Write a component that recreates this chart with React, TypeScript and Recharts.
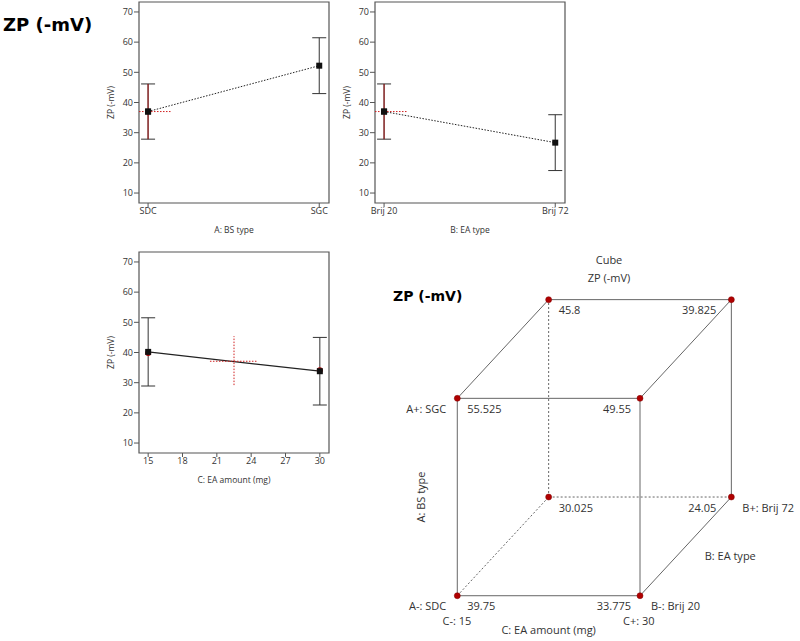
import React from 'react';
import { ComposedChart, ScatterChart, Scatter, Line, XAxis, YAxis, ErrorBar, ReferenceLine, ReferenceArea } from 'recharts';

// one-factor plots, shared y axis
const yTicks = [10, 20, 30, 40, 50, 60, 70];
const overallMean = 37.0;

// A: BS type
const bsLevels = ['SDC', 'SGC'];
const bsMeans = [37.0, 52.2];
const bsErr = [9.15, 9.25];

// B: EA type
const eaLevels = ['Brij 20', 'Brij 72'];
const eaMeans = [37.0, 26.7];
const eaErr = [9.15, 9.25];

// C: EA amount (mg)
const amountTicks = [15, 18, 21, 24, 27, 30];
const amountLevels = [15, 30];
const amountPred = [40.2, 33.8];
const amountActual = [39.8, 34.1];
const amountErr = [11.3, 11.2];
const amountMid = 22.5;
const amountMidMean = 37.1;
const amountMidSpan = [29.2, 45.4];
const amountMidRange = [20.4, 24.5];

// cube: factor levels (0 = low, 1 = high) and predicted ZP
const cubeA = [0, 0, 0, 0, 1, 1, 1, 1];
const cubeB = [0, 0, 1, 1, 0, 0, 1, 1];
const cubeC = [0, 1, 0, 1, 0, 1, 0, 1];
const cubeZP = [39.75, 33.775, 30.025, 24.05, 55.525, 49.55, 45.8, 39.825];
const levelA = ['A-: SDC', 'A+: SGC'];
const levelB = ['B-: Brij 20', 'B+: Brij 72'];
const levelC = ['C-: 15', 'C+: 30'];
const factorNames = ['A: BS type', 'B: EA type', 'C: EA amount (mg)'];

const Y_DOMAIN: [number, number] = [6.7, 73.3];
const CAT_DOMAIN: [number, number] = [-0.053, 1.057];
const FONT = '"Open Sans", sans-serif';
const AXIS = '#555';
const TXT = '#333';
const RED = '#d02020';

const project = (a: number, b: number, c: number) => ({ px: c + 0.5 * b, py: a + 0.5 * b });

const Square = (p: any) => <rect x={p.cx - 3} y={p.cy - 3} width={6} height={6} fill="#111" />;
const RedDot = (p: any) => <circle cx={p.cx} cy={p.cy} r={3} fill="#b00000" />;

type Pt = { x: number; y: number; err: number };

const EffectPlot = ({ left, top, points, actual, xDomain, xTicks, fmt, xLabel, solid, redFirst, segments }: {
  left: number; top: number; points: Pt[]; actual?: { x: number; y: number }[];
  xDomain: [number, number]; xTicks: number[]; fmt?: (v: number) => string; xLabel: string;
  solid?: boolean; redFirst?: boolean; segments: { x: number; y: number }[][];
}) => (
  <div style={{ position: 'absolute', left, top }}>
    <ComposedChart width={245} height={240} data={points} margin={{ top: 2, right: 6, bottom: 0, left: 0 }}>
      <XAxis dataKey="x" type="number" domain={xDomain} allowDataOverflow ticks={xTicks} tickFormatter={fmt}
        axisLine={false} tickLine={{ stroke: AXIS }} tickSize={4} tickMargin={1} height={37} interval={0}
        tick={{ fontSize: 9, fill: TXT, fontFamily: FONT }}
        label={{ content: (p: any) => (
          <text x={p.viewBox.x + p.viewBox.width / 2} y={p.viewBox.y + 26} textAnchor="middle" dominantBaseline="central" fontSize={8.5} fill={TXT} fontFamily={FONT}>{xLabel}</text>
        ) }} />
      <YAxis type="number" domain={Y_DOMAIN} allowDataOverflow ticks={yTicks} width={49}
        axisLine={false} tickLine={{ stroke: AXIS }} tickSize={5} tickMargin={1}
        tick={{ fontSize: 9, fill: TXT, fontFamily: FONT }}
        label={{ content: (p: any) => {
          const cx = p.viewBox.x + 20;
          const cy = p.viewBox.y + p.viewBox.height / 2;
          return <text x={cx} y={cy} transform={`rotate(-90 ${cx} ${cy})`} textAnchor="middle" dominantBaseline="central" fontSize={8.5} fill={TXT} fontFamily={FONT}>ZP (-mV)</text>;
        } }} />
      <ReferenceArea x1={xDomain[0]} x2={xDomain[1]} y1={Y_DOMAIN[0]} y2={Y_DOMAIN[1]} fill="none" stroke={AXIS} strokeWidth={1.2} ifOverflow="visible" />
      <Line dataKey="y" stroke="#222" strokeWidth={solid ? 1.2 : 1} strokeDasharray={solid ? undefined : '1.5 1.5'} dot={false} isAnimationActive={false} />
      {actual && <Scatter data={actual} dataKey="y" shape={RedDot} isAnimationActive={false} />}
      <Scatter dataKey="y" shape={Square} isAnimationActive={false}>
        <ErrorBar dataKey="err" direction="y" width={7} stroke="#333" strokeWidth={1} />
      </Scatter>
      {redFirst && (
        <Scatter data={[points[0]]} dataKey="y" shape={Square} isAnimationActive={false}>
          <ErrorBar dataKey="err" direction="y" width={0} stroke="#a01010" strokeWidth={1} />
        </Scatter>
      )}
      {segments.map((s, i) => (
        <ReferenceLine key={i} segment={s} stroke={RED} strokeDasharray="1.5 1.5" ifOverflow="visible" />
      ))}
    </ComposedChart>
  </div>
);

const CubeVertex = (p: any) => {
  const { cx, cy, payload: d } = p;
  const left = d.c === 0;
  const dx = left ? 10 : d.b === 0 ? -9 : -15;
  const t = { fontSize: 11, fill: TXT, fontFamily: FONT, dominantBaseline: 'central' as const };
  const extra: React.ReactNode[] = [];
  if (d.b === 0 && d.c === 0) extra.push(<text key="a" x={cx - 11} y={cy + 10} textAnchor="end" {...t}>{levelA[d.a]}</text>);
  if (d.a === 0 && d.b === 0 && d.c === 0) extra.push(<text key="c" x={cx + 14} y={cy + 25} textAnchor="end" {...t}>{levelC[0]}</text>);
  if (d.a === 0 && d.c === 1) extra.push(<text key="b" x={cx + 11} y={cy + 10} textAnchor="start" {...t}>{levelB[d.b]}</text>);
  if (d.a === 0 && d.b === 0 && d.c === 1) extra.push(<text key="c" x={cx - 17} y={cy + 25} textAnchor="start" {...t}>{levelC[1]}</text>);
  return (
    <g>
      <circle cx={cx} cy={cy} r={3} fill="#b00000" stroke="#800000" strokeWidth={0.5} />
      <text x={cx + dx} y={cy + 10} textAnchor={left ? 'start' : 'end'} {...t}>{d.value}</text>
      {extra}
    </g>
  );
};

const FactorLabel = (p: any) => {
  const { cx, cy, payload: d } = p;
  const t = { fontSize: 11, fill: TXT, fontFamily: FONT, dominantBaseline: 'central' as const };
  if (d.k === 0) {
    const x = cx - 37;
    return <text x={x} y={cy} transform={`rotate(-90 ${x} ${cy})`} textAnchor="middle" {...t}>{d.name}</text>;
  }
  if (d.k === 1) return <text x={cx + 19} y={cy + 9.5} textAnchor="start" {...t}>{d.name}</text>;
  return <text x={cx} y={cy + 34} textAnchor="middle" {...t}>{d.name}</text>;
};

const CubePlot = () => {
  const verts = cubeZP.map((v, i) => ({ a: cubeA[i], b: cubeB[i], c: cubeC[i], value: v, ...project(cubeA[i], cubeB[i], cubeC[i]) }));
  const edges: { s: { x: number; y: number }[]; dashed: boolean }[] = [];
  verts.forEach((p, i) => verts.forEach((q, j) => {
    if (j <= i) return;
    const diff = Math.abs(p.a - q.a) + Math.abs(p.b - q.b) + Math.abs(p.c - q.c);
    if (diff !== 1) return;
    const hidden = (v: any) => v.a === 0 && v.b === 1 && v.c === 0;
    edges.push({ s: [{ x: p.px, y: p.py }, { x: q.px, y: q.py }], dashed: hidden(p) || hidden(q) });
  }));
  const factors = [
    { k: 0, name: factorNames[0], ...project(0.5, 0, 0) },
    { k: 1, name: factorNames[1], ...project(0, 0.5, 1) },
    { k: 2, name: factorNames[2], ...project(0, 0, 0.5) },
  ];
  return (
    <div style={{ position: 'absolute', left: 370, top: 270 }}>
      <ScatterChart width={430} height={371} margin={{ top: 9.9, right: 32.1, bottom: 5.8, left: 14.2 }}>
        <XAxis type="number" dataKey="px" domain={[-0.4, 1.7]} hide />
        <YAxis type="number" dataKey="py" domain={[-0.2, 1.6]} hide />
        {edges.map((e, i) => (
          <ReferenceLine key={i} segment={e.s} stroke="#666" strokeWidth={1} strokeDasharray={e.dashed ? '2 2' : undefined} ifOverflow="visible" />
        ))}
        <Scatter data={factors} shape={FactorLabel} isAnimationActive={false} />
        <Scatter data={verts} shape={CubeVertex} isAnimationActive={false} />
      </ScatterChart>
    </div>
  );
};

const heading = (size: number): React.CSSProperties => ({
  position: 'absolute', fontFamily: '"DejaVu Sans", sans-serif', fontWeight: 900, fontSize: size, lineHeight: `${size}px`, color: '#000', whiteSpace: 'nowrap',
});

export default function App() {
  const bsPts = bsMeans.map((y, i) => ({ x: i, y, err: bsErr[i] }));
  const eaPts = eaMeans.map((y, i) => ({ x: i, y, err: eaErr[i] }));
  const amtPts = amountPred.map((y, i) => ({ x: amountLevels[i], y, err: amountErr[i] }));
  const amtAct = amountActual.map((y, i) => ({ x: amountLevels[i], y }));
  const meanSeg = [[{ x: CAT_DOMAIN[0], y: overallMean }, { x: 0.134, y: overallMean }]];
  const amtSeg = [
    [{ x: amountMidRange[0], y: amountMidMean }, { x: amountMidRange[1], y: amountMidMean }],
    [{ x: amountMid, y: amountMidSpan[0] }, { x: amountMid, y: amountMidSpan[1] }],
  ];
  return (
    <div style={{ position: 'absolute', left: 0, top: 0, width: 800, height: 641, background: '#fff', overflow: 'hidden' }}>
      <div style={{ ...heading(18), left: 3, top: 16 }}>ZP (-mV)</div>
      <div style={{ ...heading(14), left: 393, top: 289 }}>ZP (-mV)</div>
      <div style={{ position: 'absolute', left: 559, width: 100, top: 251, textAlign: 'center', fontFamily: FONT, fontSize: 11, lineHeight: '18px', color: TXT }}>
        Cube<br />ZP (-mV)
      </div>
      <EffectPlot left={90} top={0} points={bsPts} xDomain={CAT_DOMAIN} xTicks={[0, 1]} fmt={(v) => bsLevels[v] ?? ''}
        xLabel="A: BS type" redFirst segments={meanSeg} />
      <EffectPlot left={326} top={0} points={eaPts} xDomain={CAT_DOMAIN} xTicks={[0, 1]} fmt={(v) => eaLevels[v] ?? ''}
        xLabel="B: EA type" redFirst segments={meanSeg} />
      <EffectPlot left={90} top={250} points={amtPts} actual={amtAct} xDomain={[14.2, 30.8]} xTicks={amountTicks}
        xLabel="C: EA amount (mg)" solid segments={amtSeg} />
      <CubePlot />
    </div>
  );
}
